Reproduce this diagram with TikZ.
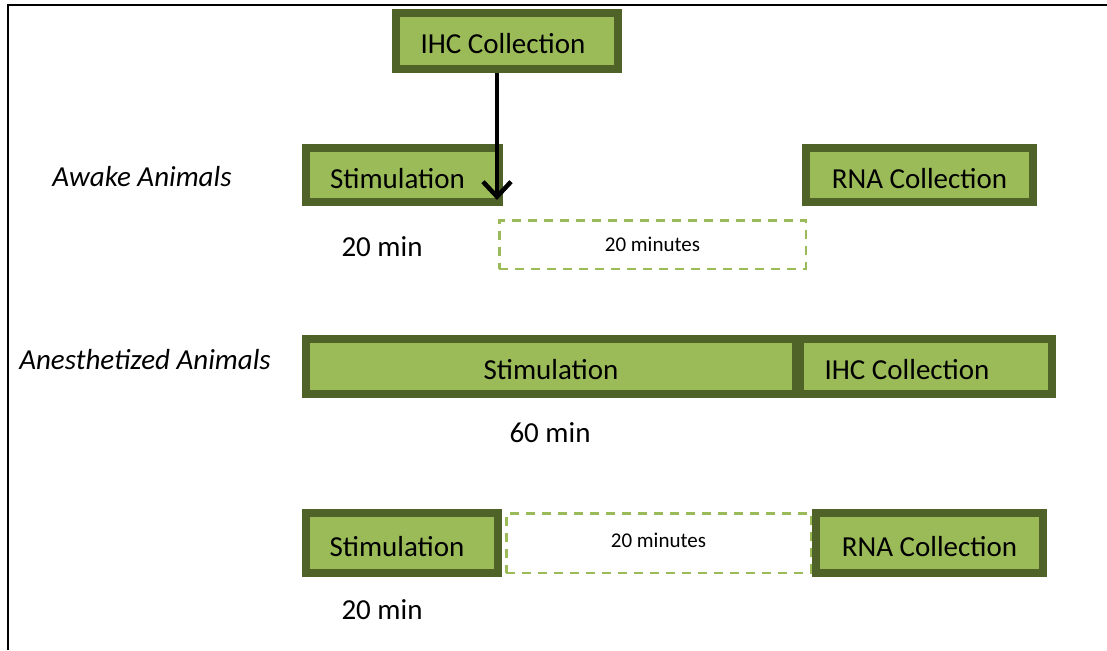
\documentclass[tikz,border=0pt]{standalone}
\usepackage{fontspec}
\setmainfont{Carlito}
\usetikzlibrary{arrows.meta}
\definecolor{boxfill}{HTML}{9BBB59}
\definecolor{boxline}{HTML}{4F6228}
\newcommand{\padr}[1]{\rule{#1}{0pt}}
\begin{document}
\begin{tikzpicture}[x=1pt,y=-1pt,
  box/.style={draw=boxline, fill=boxfill, line width=8pt, inner sep=0pt, text height=28pt, text depth=2pt, font=\fontsize{29}{32}\selectfont},
  dbox/.style={draw=boxfill, dashed, dash pattern=on 9pt off 7pt, line width=2.5pt, inner sep=0pt, font=\fontsize{21}{24}\selectfont},
  lbl/.style={inner sep=0pt, font=\fontsize{29}{32}\selectfont},
  grp/.style={inner sep=0pt, font=\fontsize{29}{32}\selectfont\itshape},
  arr/.style={line width=4.5pt, -{Straight Barb[length=15pt,width=28pt,line width=4.5pt]}}
]
\useasboundingbox (0,0) rectangle (1107,650);
\draw[line width=2pt] (8,650) -- (8,5) -- (1107,5);

% top IHC
\node[box, minimum width=222pt, minimum height=56pt] (ihcTop) at (507,41) {IHC Collection\padr{8pt}};

% Awake row
\node[grp] (awake) at (142,177) {Awake Animals};
\node[box, minimum width=193pt, minimum height=54pt] (stim1) at (402.5,175) {Stimulation\padr{10pt}};
\node[box, minimum width=227pt, minimum height=54pt] (rna1) at (919.5,175) {RNA Collection};
\node[dbox, minimum width=306.5pt, minimum height=48.5pt] (wait1) at (652.5,244.5) {20 minutes};
\node[lbl] (t1) at (382,247) {20 min};

\coordinate (arrend) at (497,200);
\draw[arr] (ihcTop.south -| arrend) -- (arrend);

% Anesthetized row
\node[grp] (anest) at (145,360) {Anesthetized Animals};
\node[box, minimum width=490pt, minimum height=55pt] (stim2) at (551,366.5) {Stimulation};
\node[box, minimum width=252pt, minimum height=55pt] (ihc2) at (926,366.5) {IHC Collection\padr{38pt}};
\node[lbl] (t2) at (550,433) {60 min};

% Third row
\node[box, minimum width=192pt, minimum height=60pt] (stim3) at (402,543) {Stimulation\padr{10pt}};
\node[dbox, minimum width=304.5pt, minimum height=59.5pt] (wait2) at (658.5,543) {\raisebox{6pt}{20 minutes}};
\node[box, minimum width=227pt, minimum height=60pt] (rna3) at (929.5,543) {RNA Collection};
\node[lbl] (t3) at (382,610) {20 min};
\end{tikzpicture}
\end{document}
